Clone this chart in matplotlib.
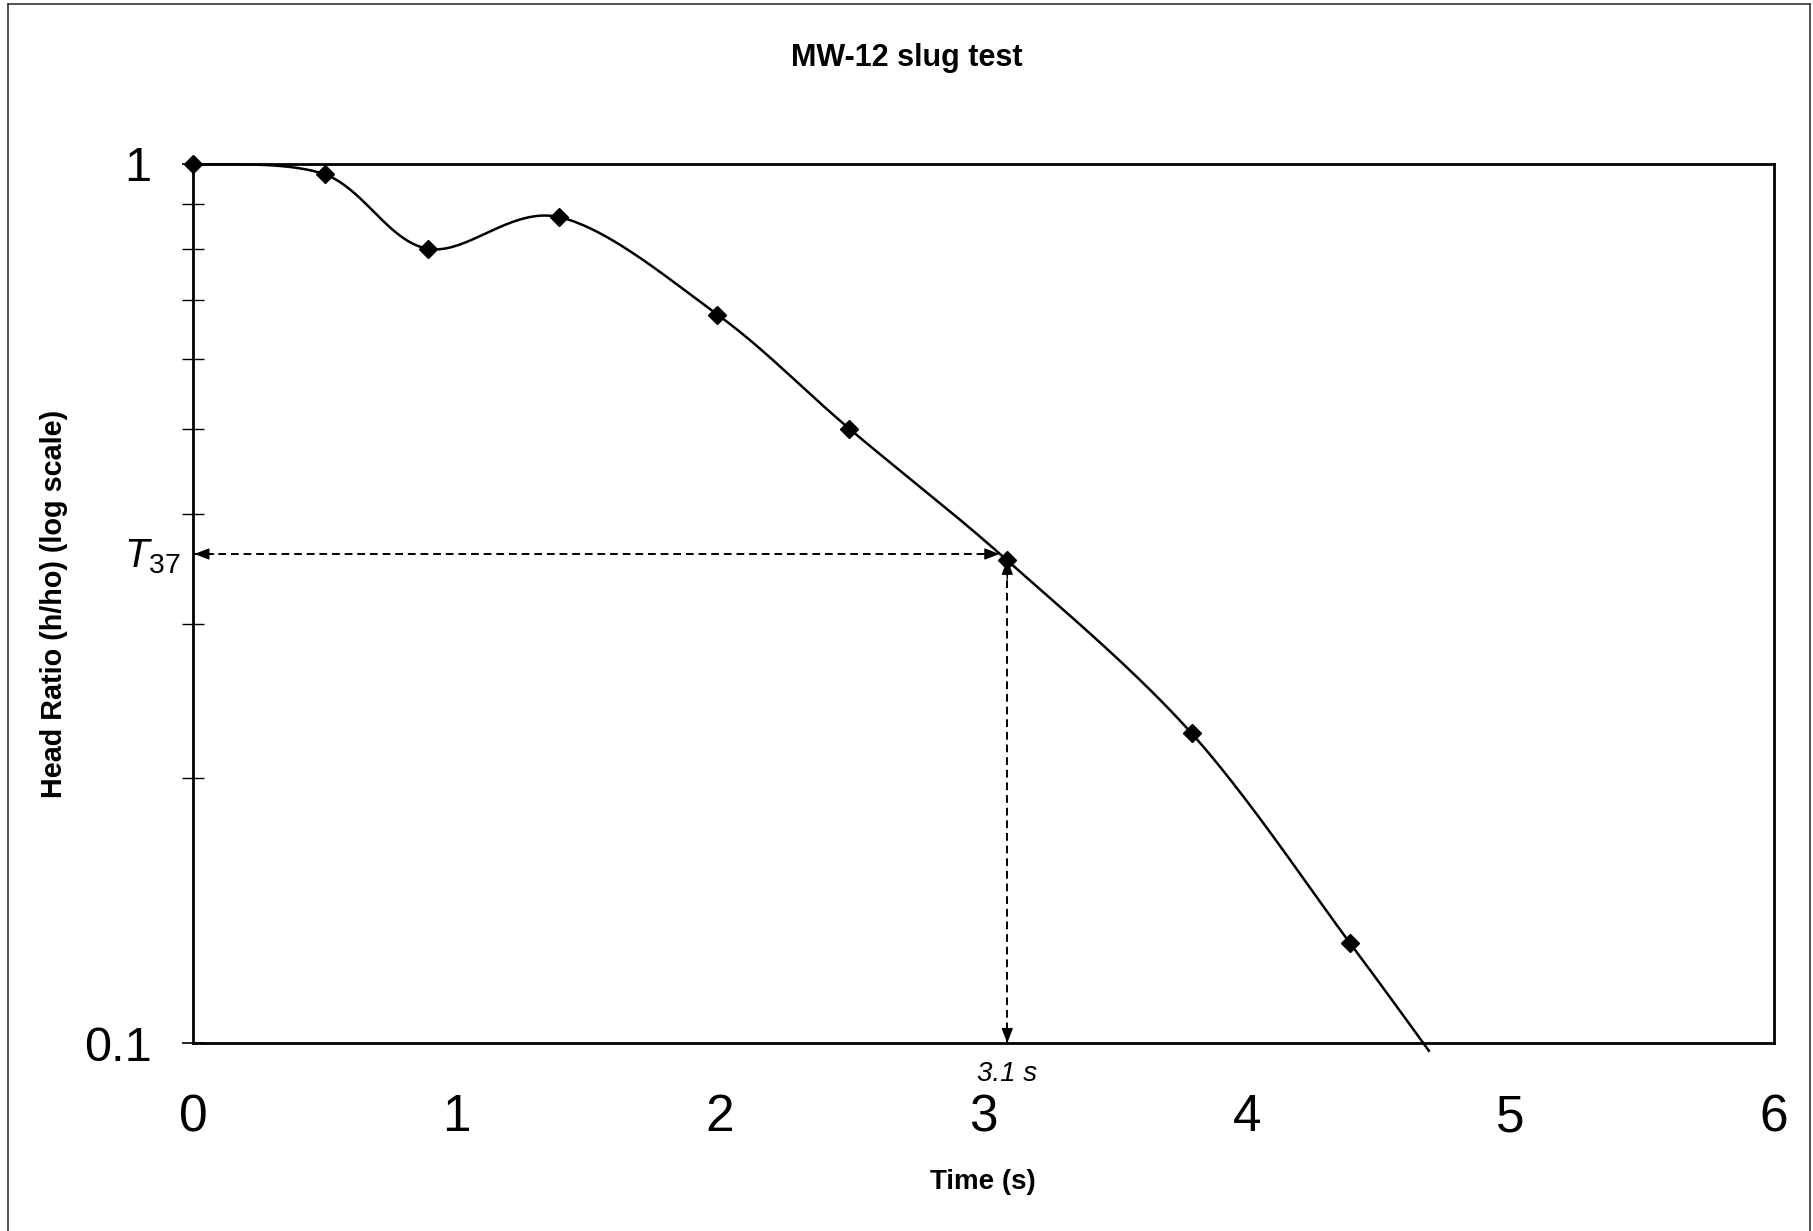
import numpy as np
import matplotlib
matplotlib.use('Agg')
from matplotlib import pyplot as plt
from matplotlib.lines import Line2D

plt.rcParams['font.family'] = ['Liberation Sans', 'DejaVu Sans']
plt.rcParams['mathtext.fontset'] = 'custom'
plt.rcParams['mathtext.it'] = 'Liberation Sans:italic'
plt.rcParams['mathtext.rm'] = 'Liberation Sans'

# data
zaman = [0.0, 0.50, 0.89, 1.39, 1.99, 2.49, 3.09, 3.79, 4.39]
oran = [1.0, 0.973, 0.801, 0.870, 0.674, 0.500, 0.354, 0.225, 0.130]
son_nokta = (4.69, 0.098)   # where the drawn curve stops, just under the axis
t37_oran = 0.36
t37_zaman = 3.09
xtik = [0, 1, 2, 3, 4, 5, 6]
ytik = [0.1, 1]
ytik_yazi = ['0.1', '1']


def yumusat(x, y, n=40):
    # catmull-rom through the points, in (x, log y) space
    px = np.array(x, float)
    py = np.log10(np.array(y, float))
    px = np.concatenate([[px[0]], px, [px[-1]]])
    py = np.concatenate([[py[0]], py, [py[-1]]])
    xs, ys = [], []
    s = np.linspace(0, 1, n)
    for i in range(1, len(px) - 2):
        p0, p1, p2, p3 = [np.array([px[j], py[j]]) for j in (i - 1, i, i + 1, i + 2)]
        c1 = p1 + (p2 - p0) / 6
        c2 = p2 - (p3 - p1) / 6
        b = (((1 - s) ** 3)[:, None] * p1 + (3 * (1 - s) ** 2 * s)[:, None] * c1
             + (3 * (1 - s) * s ** 2)[:, None] * c2 + (s ** 3)[:, None] * p2)
        xs.append(b[:, 0])
        ys.append(b[:, 1])
    return np.concatenate(xs), 10 ** np.concatenate(ys)


fig = plt.figure(figsize=(18.13, 12.31), dpi=100)
ax = fig.add_axes([0.1065, 0.1527, 0.872, 0.7141])

cx, cy = yumusat(zaman + [son_nokta[0]], oran + [son_nokta[1]])
ax.plot(cx, cy, color='black', lw=1.8, clip_on=False, zorder=3)
ax.plot(zaman, oran, linestyle='none', marker='D', markersize=9, color='black',
        clip_on=False, zorder=4)

# T37 construction lines
ax.plot([0, t37_zaman - 0.03], [t37_oran, t37_oran], color='black', lw=1.4,
        linestyle=(0, (4, 2.5)), zorder=2)
ax.plot([t37_zaman, t37_zaman], [0.1, t37_oran], color='black', lw=1.4,
        linestyle=(0, (4, 2.5)), zorder=2)
ok = dict(arrowstyle='-|>,head_length=0.9,head_width=0.35', color='black', lw=1,
          shrinkA=0, shrinkB=0)
ax.annotate('', xy=(0.005, t37_oran), xytext=(14, 0), textcoords='offset points', arrowprops=ok)
ax.annotate('', xy=(t37_zaman - 0.03, t37_oran), xytext=(-14, 0), textcoords='offset points', arrowprops=ok)
ax.annotate('', xy=(t37_zaman, 0.1), xytext=(0, 14), textcoords='offset points', arrowprops=ok)
ax.annotate('', xy=(t37_zaman, t37_oran * 0.985), xytext=(0, -14), textcoords='offset points', arrowprops=ok)

ax.annotate(r'$\mathit{T_{37}}$', xy=(0, t37_oran), xytext=(-9, -2), textcoords='offset points',
            ha='right', va='center', fontsize=29, annotation_clip=False)
ax.annotate('3.1 s', xy=(t37_zaman, 0.1), xytext=(0, -22), textcoords='offset points',
            ha='center', va='center', fontsize=20, style='italic', annotation_clip=False)

ax.set_yscale('log')
ax.set_xlim(0, 6)
ax.set_ylim(0.1, 1)
ax.set_xticks(xtik)
ax.set_xticklabels([str(v) for v in xtik])
ax.set_yticks(ytik)
ax.set_yticklabels(ytik_yazi)
ax.yaxis.set_minor_locator(matplotlib.ticker.LogLocator(base=10, subs=np.arange(2, 10)))
ax.yaxis.set_minor_formatter(matplotlib.ticker.NullFormatter())
ax.tick_params(axis='x', length=0, pad=36, labelsize=37)
ax.tick_params(axis='y', which='major', direction='inout', length=16, width=1.2, pad=22, labelsize=35)
ax.tick_params(axis='y', which='minor', direction='inout', length=16, width=1.0)
for sp in ax.spines.values():
    sp.set_linewidth(2)

fig.text(0.5, 0.953, 'MW-12 slug test', ha='center', va='center', fontsize=22, fontweight='bold')
fig.text(0.542, 0.040, 'Time (s)', ha='center', va='center', fontsize=20, fontweight='bold')
fig.text(0.030, 0.509, 'Head Ratio (h/ho) (log scale)', ha='center', va='center',
         rotation=90, fontsize=20.7, fontweight='bold')

# scanned page frame
for xs, ys in [([0.0045, 0.0045], [0.0, 0.9965]), ([0.0045, 0.9985], [0.9965, 0.9965]),
               ([0.9985, 0.9985], [0.0, 0.9965])]:
    fig.add_artist(Line2D(xs, ys, transform=fig.transFigure, color='#333333', lw=1.2))

fig.savefig('out.png', dpi=100)
